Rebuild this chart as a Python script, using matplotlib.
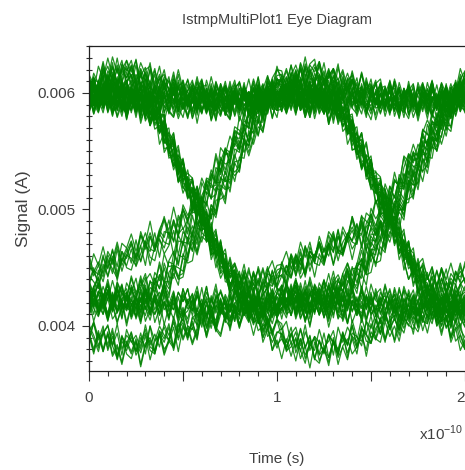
import numpy as np
import matplotlib
matplotlib.use("Agg")
import matplotlib.pyplot as plt
from matplotlib.ticker import MultipleLocator, FuncFormatter

plt.rcParams['font.family'] = ['Liberation Sans', 'DejaVu Sans']

# ---------------- data (signal in units of 1e-5 A, time in units of 1e-10 s) ----------------
# one unit interval sampled every 0.025e-10 s (41 samples)
high_hold = [598, 598, 597, 597, 597, 596, 596, 596, 595, 595,
             595, 594, 594, 594, 594, 593, 593, 593, 593, 593,
             593, 593, 593, 593, 593, 593, 593, 593, 593, 593,
             593, 594, 594, 594, 594, 594, 595, 595, 595, 596, 596]
high_overshoot = [600, 603, 606, 609, 611, 613, 614, 614, 614, 613,
                  612, 611, 609, 608, 606, 605, 603, 602, 601, 600,
                  599, 598, 597, 596, 596, 595, 595, 594, 594, 594,
                  594, 594, 594, 594, 594, 594, 594, 594, 595, 595, 595]
fall_low = [598, 598, 597, 597, 597, 597, 596, 596, 596, 595,
            594, 592, 590, 587, 582, 575, 566, 557, 548, 539,
            530, 521, 512, 503, 494, 484, 475, 466, 458, 450,
            442, 436, 430, 425, 421, 418, 416, 414, 413, 412, 412]
fall_under = [598, 598, 597, 597, 597, 597, 596, 596, 596, 595,
              594, 592, 590, 587, 582, 575, 566, 557, 548, 539,
              530, 521, 512, 503, 494, 484, 475, 466, 458, 450,
              442, 436, 430, 423, 416, 410, 405, 400, 397, 394, 392]
fall_mid = [598, 598, 597, 597, 597, 597, 596, 596, 596, 595,
            594, 592, 590, 587, 582, 575, 566, 557, 548, 539,
            530, 521, 512, 503, 494, 484, 475, 466, 458, 450,
            444, 440, 438, 437, 436, 436, 436, 437, 438, 439, 441]
low_hold = [420, 420, 420, 419, 419, 419, 419, 418, 418, 418,
            418, 418, 418, 418, 418, 418, 418, 418, 418, 418,
            418, 418, 418, 418, 418, 418, 418, 418, 418, 418,
            418, 418, 419, 419, 419, 419, 419, 420, 420, 420, 420]
low_recover = [392, 390, 388, 386, 385, 384, 383, 382, 382, 382,
               382, 382, 383, 384, 385, 386, 388, 389, 391, 393,
               395, 396, 398, 399, 401, 402, 404, 405, 407, 408,
               409, 410, 411, 411, 412, 412, 413, 413, 414, 414, 415]
rise_low = [426, 426, 425, 425, 424, 424, 424, 424, 425, 425,
            426, 427, 428, 429, 431, 433, 436, 440, 444, 449,
            455, 461, 468, 475, 482, 490, 498, 506, 515, 523,
            531, 538, 546, 553, 561, 568, 575, 582, 589, 595, 601]
rise_low_early = [425, 425, 424, 424, 424, 424, 425, 425, 426, 427,
                  428, 429, 431, 433, 436, 440, 444, 449, 455, 461,
                  468, 475, 482, 490, 498, 506, 515, 523, 531, 538,
                  546, 553, 561, 568, 575, 582, 589, 595, 601, 606, 610]
rise_slow = [445, 447, 449, 451, 453, 455, 457, 459, 461, 463,
             465, 467, 469, 471, 473, 475, 478, 481, 484, 487,
             491, 495, 500, 505, 511, 517, 524, 531, 538, 544,
             551, 557, 563, 569, 575, 580, 586, 591, 596, 600, 604]
rise_slow_low = [438, 440, 443, 446, 448, 450, 452, 454, 456, 458,
                 459, 461, 463, 465, 466, 468, 470, 472, 474, 476,
                 477, 479, 480, 482, 485, 489, 495, 503, 512, 520,
                 529, 537, 545, 553, 560, 568, 575, 582, 589, 595, 601]

# sample-to-sample noise read as jaggedness of the traces (1e-5 A)
jitter_rows = [
    [5, -8, 10, -4, 12, -6, 3, -11, 7, -2, 9, -13, 4, 8, -5, 11, -9, 2, -6, 13, -3, 6, -10, 1, 9, -7, 12, -4, -12, 5, -1, 10, -8, 4, -5, 11, -2, 7, -11, 3, 6],
    [-6, 9, -3, 11, -9, 4, -12, 6, 0, 10, -7, 5, -4, 13, -10, 2, 8, -5, 12, -8, 3, -11, 7, -1, 10, -6, 4, -13, 9, -3, 6, -9, 11, -4, 2, -10, 8, -6, 12, -2, -7],
    [10, -2, -9, 6, -5, 12, -3, 8, -12, 4, -7, 9, 1, -10, 7, -4, 11, -8, 5, -2, -11, 8, -6, 12, -5, 3, -9, 10, -2, 7, -12, 4, 9, -7, 1, -4, 13, -9, 5, -3, 8],
    [-3, 7, -11, 2, 9, -6, 13, -8, 4, -1, -9, 6, -13, 10, -4, 8, -2, -7, 11, -5, 9, -12, 3, 6, -8, 13, -1, -6, 8, -10, 2, 11, -5, 6, -13, 7, -3, 10, -7, 1, -9],
    [8, -10, 4, -3, 11, -7, -1, 9, -12, 6, -4, 12, -8, 3, -2, 10, -11, 5, 7, -9, 2, -6, 11, -13, 8, -3, 5, -10, 12, -6, 1, 8, -12, 3, -7, 10, -1, -8, 6, -4, 11],
    [-9, 3, 12, -5, 6, -10, 8, -2, -7, 11, -4, 1, 9, -12, 5, -6, 13, -3, -8, 7, -1, 10, -9, 4, -5, 12, -11, 2, 7, -4, -10, 9, -2, 12, -8, 4, -6, 3, 9, -12, 5],
    [2, -12, 7, -6, 10, 1, -9, 12, -4, -8, 6, -3, 11, -11, 4, 9, -6, -1, 10, -13, 6, -2, 8, -7, 13, -10, 3, -5, 11, -1, -8, 5, -11, 8, -3, 12, -9, 2, -5, 10, -6],
    [-4, 11, -7, 3, -12, 8, -5, 6, 10, -9, 2, -13, 7, -2, 9, -6, 4, -10, 12, -3, -7, 5, 10, -8, 1, -11, 9, -4, 6, -12, 10, -3, -6, 11, -9, -2, 7, -10, 4, 12, -5],
    [12, -5, 2, -10, 7, -3, 11, -8, -1, 6, -11, 10, -4, 5, -9, 1, 12, -7, 3, -12, 9, -4, -2, 11, -8, 6, -3, 13, -9, 4, -6, 10, 1, -11, 7, -5, 9, -12, 3, -1, 7],
    [-7, 4, -2, 13, -8, 5, -11, 1, 9, -6, 12, -9, 3, -4, 10, -13, 6, 2, -8, 11, -5, -1, 9, -10, 4, 7, -12, 8, -3, 11, -7, 3, -9, 6, -1, -12, 10, -4, 8, -9, 2],
    [6, -1, -10, 8, -4, 11, -12, 5, -3, 9, -7, 2, 11, -5, -9, 7, -2, 10, -12, 4, 8, -6, 1, -11, 12, -4, 6, -9, 3, 9, -13, 5, -2, 10, -6, 8, -11, 4, -3, 11, -8],
    [-11, 8, -4, 1, 10, -7, 5, -13, 9, -2, 4, -8, 12, -6, 2, -10, 8, -3, 6, -9, 12, -2, -7, 10, -5, 3, -12, 7, -1, -6, 11, -9, 4, -4, 12, -7, 1, -10, 9, -2, -11],
]

# each captured trace: shape in first unit interval, shape in second
first_ui = ["HH", "HH", "HH", "HH", "HH", "HH", "HH", "HH",
            "OV", "OV", "OV", "OV", "OV", "OV",
            "LH", "LHe", "LH", "LHe", "SLl", "LH", "SL", "SL", "SL",
            "FM", "FL", "FL", "FL", "FM",
            "LL", "LL", "LL", "LL", "LL", "LL",
            "UR", "UR", "UR", "UR",
            "FU", "FU", "FU", "FU",
            "FM", "FM", "FM"]
second_ui = ["HH", "HH", "HH", "FL", "FU", "FM", "FM", "HH",
             "HH", "HH", "FM", "FU", "FM", "FL",
             "OV", "OV", "OV", "OV", "FL", "FU", "OV", "OV", "FL",
             "SLl", "LH", "LL", "LHe", "SL",
             "LL", "LL", "LH", "LL", "LHe", "LL",
             "LL", "LH", "LL", "LHe",
             "UR", "UR", "UR", "UR",
             "SL", "SLl", "SL"]
# two capture passes: noise rows and level offsets of each trace
noise_first = [[0, 1, 2, 3, 4, 5, 6, 7, 8, 9, 10, 11, 0, 1, 2, 3, 4, 5, 6, 7, 8, 9, 10,
                11, 0, 1, 2, 3, 4, 5, 6, 7, 8, 9, 10, 11, 0, 1, 2, 3, 4, 5, 6, 7, 8],
               [5, 9, 0, 11, 2, 7, 4, 10, 1, 6, 3, 8, 9, 2, 11, 4, 7, 0, 10, 5, 3, 8, 1,
                6, 10, 4, 0, 9, 2, 11, 7, 5, 1, 8, 3, 6, 10, 0, 4, 9, 11, 2, 5, 8, 3]]
noise_second = [[7, 3, 10, 5, 11, 0, 8, 2, 9, 4, 6, 1, 3, 11, 5, 0, 10, 7, 2, 9, 1, 8, 4,
                 6, 11, 2, 9, 5, 0, 7, 3, 10, 6, 1, 8, 4, 9, 0, 11, 2, 5, 7, 1, 10, 3],
                [2, 6, 1, 9, 3, 10, 0, 11, 5, 8, 4, 7, 11, 0, 6, 9, 2, 3, 10, 1, 8, 5, 7,
                 4, 0, 11, 6, 2, 9, 3, 10, 1, 8, 5, 11, 7, 0, 4, 2, 6, 9, 3, 10, 1, 8]]
level_offset = [[3, -4, 6, -2, 1, -6, 4, 0, -3, 5, 2, -5, 7, -1, 3, -4, 1, 5, -2, -6, 4, -3, 0,
                 2, -5, 6, -1, 3, -6, 4, 2, -3, 5, -4, 0, 6, -2, 3, -5, 1, 4, -3, -1, 5, -4],
                [-5, 2, -1, 6, -3, 4, -6, 1, 5, -2, 3, -4, 0, 6, -5, 2, -3, 4, -1, 5, -4, 1, 6,
                 -2, 3, -6, 0, 5, -3, 2, -1, 4, -5, 1, 6, -2, 3, -4, 2, -6, 0, 5, -3, 4, 1]]

shapes = {"HH": high_hold, "OV": high_overshoot, "FL": fall_low, "FU": fall_under,
          "FM": fall_mid, "LL": low_hold, "UR": low_recover, "LH": rise_low,
          "LHe": rise_low_early, "SL": rise_slow, "SLl": rise_slow_low}

x_ticks_major = [0, 0.5, 1, 1.5, 2]
y_ticks_major = [0.004, 0.005, 0.006]

# ---------------- figure ----------------
fig = plt.figure(figsize=(4.65, 4.70), dpi=100)
ax = fig.add_axes([89 / 465, 99 / 470, 376 / 465, 325 / 470])

ui_time = np.linspace(0.0, 1.0, len(high_hold))
t_full = np.concatenate([ui_time, 1.0 + ui_time[1:]])

for p in range(len(level_offset)):
    for s1, s2, j1, j2, off in zip(first_ui, second_ui, noise_first[p],
                                   noise_second[p], level_offset[p]):
        a = np.array(shapes[s1], float) + np.array(jitter_rows[j1]) + off
        b = np.array(shapes[s2], float) + np.array(jitter_rows[j2]) + off
        sig = np.concatenate([a, b[1:]]) * 1e-5
        ax.plot(t_full, sig, color='#008000', lw=0.9, alpha=0.85)

ax.set_xlim(0, 2)
ax.set_ylim(0.0036137, 0.0064034)

text_col = '#404040'
ax.xaxis.set_major_locator(plt.FixedLocator(x_ticks_major))
ax.xaxis.set_minor_locator(MultipleLocator(0.1))
ax.xaxis.set_major_formatter(FuncFormatter(
    lambda v, p: str(int(round(v))) if abs(v - round(v)) < 1e-9 else ''))
ax.yaxis.set_major_locator(plt.FixedLocator(y_ticks_major))
ax.yaxis.set_minor_locator(MultipleLocator(0.0001))
ax.yaxis.set_major_formatter(FuncFormatter(lambda v, p: f"{v:.3f}"))

ax.tick_params(axis='x', which='major', direction='out', length=7.2, width=0.8,
               pad=7, labelsize=11, colors='#303030', labelcolor=text_col)
ax.tick_params(axis='x', which='minor', direction='out', length=3.8, width=0.8, colors='#303030')
ax.tick_params(axis='y', which='major', direction='out', length=5, width=0.8,
               pad=5, labelsize=11, colors='#303030', labelcolor=text_col)
ax.tick_params(axis='y', which='minor', direction='inout', length=4.4, width=0.8, colors='#303030')

for side in ['left', 'bottom', 'top']:
    ax.spines[side].set_color('#202020')
    ax.spines[side].set_linewidth(0.9)
ax.spines['right'].set_visible(False)

ax.set_title('IstmpMultiPlot1 Eye Diagram', fontsize=10.5, color=text_col, pad=16)
ax.set_xlabel('Time (s)', fontsize=11, color=text_col)
ax.xaxis.set_label_coords(0.5, -0.271)
ax.xaxis.label.set_va('center')
ax.set_ylabel('Signal (A)', fontsize=12.5, color=text_col)
ax.yaxis.set_label_coords(-0.1755, 0.5)
ax.yaxis.label.set_va('center')

fig.text(463 / 465, (470 - 440) / 470, r'x10$^{\mathregular{-10}}$', fontsize=11,
         color=text_col, ha='right', va='baseline')

fig.canvas.draw()
ax.get_xticklabels()[-1].set_ha('right')

fig.savefig('out.png', dpi=100)
